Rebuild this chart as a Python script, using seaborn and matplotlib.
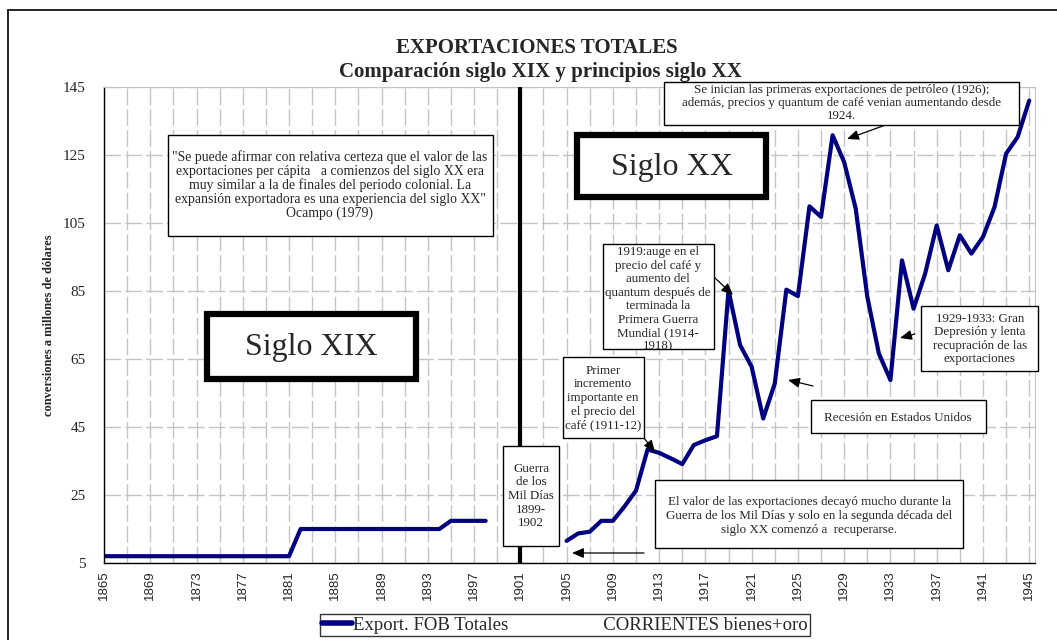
import matplotlib
matplotlib.use("Agg")
import numpy as np
import pandas as pd
import matplotlib.pyplot as plt
import seaborn as sns
from matplotlib.lines import Line2D
from matplotlib.patches import Rectangle
from matplotlib.ticker import MultipleLocator, FuncFormatter

# --- datos (millones de dólares corrientes) ---
anios_xix = list(range(1865, 1899))
export_xix = [7.0, 7.0, 7.0, 7.0, 7.0, 7.0, 7.0, 7.0, 7.0, 7.0, 7.0, 7.0, 7.0, 7.0, 7.0, 7.0, 7.0,
              15.0, 15.0, 15.0, 15.0, 15.0, 15.0, 15.0, 15.0, 15.0, 15.0, 15.0, 15.0, 15.0,
              17.4, 17.4, 17.4, 17.4]
anios_xx = list(range(1905, 1946))
export_xx = [11.5, 13.7, 14.2, 17.4, 17.4, 21.6, 26.3, 38.4, 37.4, 35.8, 34.1, 39.7, 41.1, 42.3,
             85.2, 69.1, 62.7, 47.5, 57.8, 85.4, 83.5, 109.9, 106.8, 130.8, 122.9, 109.2,
             83.3, 66.6, 58.8, 94.0, 79.8, 90.1, 104.3, 91.1, 101.4, 96.0, 100.9, 109.7,
             125.4, 130.3, 141.0]
y_ticks = [5, 25, 45, 65, 85, 105, 125, 145]
linea_guerra = 1901

df = pd.concat([
    pd.DataFrame({"anio": anios_xix, "valor": export_xix, "tramo": "XIX"}),
    pd.DataFrame({"anio": anios_xx, "valor": export_xx, "tramo": "XX"}),
])

sns.set_style("white")
SERIF = ["Liberation Serif", "DejaVu Serif"]
NARROW = ["Liberation Sans Narrow", "Liberation Sans", "DejaVu Sans"]
plt.rcParams["font.family"] = SERIF

W, H = 1057, 640
NAVY = "#000080"
GRID = "#c4c4c4"


def fp(x, y):
    """pixel (desde arriba-izquierda) -> fracción de figura"""
    return (x / W, 1 - y / H)


fig = plt.figure(figsize=(W / 100, H / 100), dpi=100)
ax = fig.add_axes([104 / W, 1 - 563 / H, (1035 - 104) / W, (563 - 87) / H])

sns.lineplot(data=df, x="anio", y="valor", units="tramo", estimator=None,
             color=NAVY, linewidth=3, ax=ax, legend=False)
ax.axvline(linea_guerra, color="black", linewidth=3, zorder=4)

ax.set_xlim(1865, 1945.5)
ax.set_ylim(5, 145)
ax.set_yticks(y_ticks)
ax.set_xticks(list(range(1865, 1946, 2)))
ax.xaxis.set_minor_locator(MultipleLocator(1))
ax.xaxis.set_major_formatter(FuncFormatter(
    lambda v, p: f"{int(round(v))}" if int(round(v - 1865)) % 4 == 0 else ""))
ax.tick_params(axis="x", which="both", direction="inout", length=6, width=1,
               color="black", rotation=90, pad=2)
ax.tick_params(axis="y", direction="out", length=4, width=1, color="black", pad=9,
               labelsize=11)
for lab in ax.get_xticklabels():
    lab.set_family(NARROW)
    lab.set_fontsize(9.5)

ax.grid(True, axis="both", which="major", color=GRID, linewidth=1,
        linestyle=(0, (12, 3)))
ax.set_axisbelow(True)
for side in ["top", "right"]:
    ax.spines[side].set_color(GRID)
for side in ["left", "bottom"]:
    ax.spines[side].set_color("black")
    ax.spines[side].set_linewidth(1)

ax.set_xlabel("")
ax.set_ylabel("conversiones a millones de dólares", fontsize=9, fontweight="bold",
              labelpad=6)

# --- títulos ---
fig.text(*fp(537, 48), "EXPORTACIONES TOTALES", ha="center", va="center",
         fontsize=15, fontweight="bold")
fig.text(*fp(540, 72), "Comparación siglo XIX y principios siglo XX", ha="center",
         va="center", fontsize=15, fontweight="bold")

# marco exterior
fig.add_artist(Line2D([8 / W, 8 / W], [0, 1 - 10 / H], color="black", lw=1.2,
                      transform=fig.transFigure))
fig.add_artist(Line2D([8 / W, 1], [1 - 10 / H, 1 - 10 / H], color="black", lw=1.2,
                      transform=fig.transFigure))


def caja(x0, y0, x1, y1, lw=1.0):
    r = Rectangle(fp(x0, y1), (x1 - x0) / W, (y1 - y0) / H, transform=fig.transFigure,
                  facecolor="white", edgecolor="black", linewidth=lw, zorder=5)
    fig.add_artist(r)
    return r


def texto(x, y, s, size=9.4, va="center", ls=1.17, **kw):
    return fig.text(*fp(x, y), s, ha="center", va=va, fontsize=size, zorder=6,
                    linespacing=ls, **kw)


def flecha(x0, y0, x1, y1):
    ax.annotate("", xy=fp(x1, y1), xycoords="figure fraction",
                xytext=fp(x0, y0), textcoords="figure fraction",
                arrowprops=dict(arrowstyle="-|>,head_length=0.7,head_width=0.3",
                                color="black", lw=0.9, shrinkA=0, shrinkB=0),
                annotation_clip=False)


caja(168, 135, 493, 236)
texto(330, 185, "\"Se puede afirmar con relativa certeza que el valor de las\n"
                "exportaciones per cápita   a comienzos del siglo XX era\n"
                "muy similar a la de finales del periodo colonial. La\n"
                "expansión exportadora es una experiencia del siglo XX\"\n"
                "Ocampo (1979)", size=9.9, ls=1.06)

caja(207, 314, 416, 379, lw=4.5)
texto(311, 348, "Siglo XIX", size=23)

caja(577, 135, 766, 197, lw=4.5)
texto(672, 168, "Siglo XX", size=23)

caja(503, 446, 559, 546)
texto(531, 496, "Guerra\nde los\nMil Días\n1899-\n1902")

caja(563, 357, 644, 438)
texto(603, 398, "Primer\nincremento\nimportante en\nel precio del\ncafé (1911-12)")
flecha(644, 438, 655, 452)

r1919 = caja(603, 244, 714, 349)
t1919 = texto(658, 246, "1919:auge en el\nprecio del café y\naumento del\nquantum después de\n"
                        "terminada la\nPrimera Guerra\nMundial (1914-\n1918)", va="top")
t1919.set_clip_path(r1919)
flecha(714, 277, 733, 295)

caja(664, 82, 1019, 125)
texto(842, 84.5, "Se inician las primeras exportaciones de petróleo (1926);\n"
                 "además, precios y quantum de café venian aumentando desde\n1924.",
      va="top", ls=1.08)
flecha(902, 119, 847, 139)

caja(921, 306, 1038, 371)
texto(980, 339, "1929-1933: Gran\nDepresión y lenta\nrecupración de las\nexportaciones")
flecha(915, 334, 900, 338)

caja(811, 400, 986, 433)
texto(898, 418, "Recesión en Estados Unidos")
flecha(813, 386, 788, 380)

caja(655, 480, 963, 548)
texto(809, 516, "El valor de las exportaciones decayó mucho durante la\n"
                "Guerra de los Mil Días y solo en la segunda década del\n"
                "siglo XX comenzó a  recuperarse.")
flecha(644, 553, 572, 553)

# leyenda
handle = Line2D([], [], color=NAVY, linewidth=4)
leg = fig.legend([handle], ["Export. FOB Totales" + " " * 20 + "CORRIENTES bienes+oro"],
                 loc="center", bbox_to_anchor=fp(565, 625), frameon=True,
                 fancybox=False, edgecolor="black", handlelength=1.6, handletextpad=0.05,
                 borderpad=0.12, borderaxespad=0, prop={"family": SERIF, "size": 13.5})
leg.get_frame().set_linewidth(1)

fig.savefig("out.png", dpi=100)
